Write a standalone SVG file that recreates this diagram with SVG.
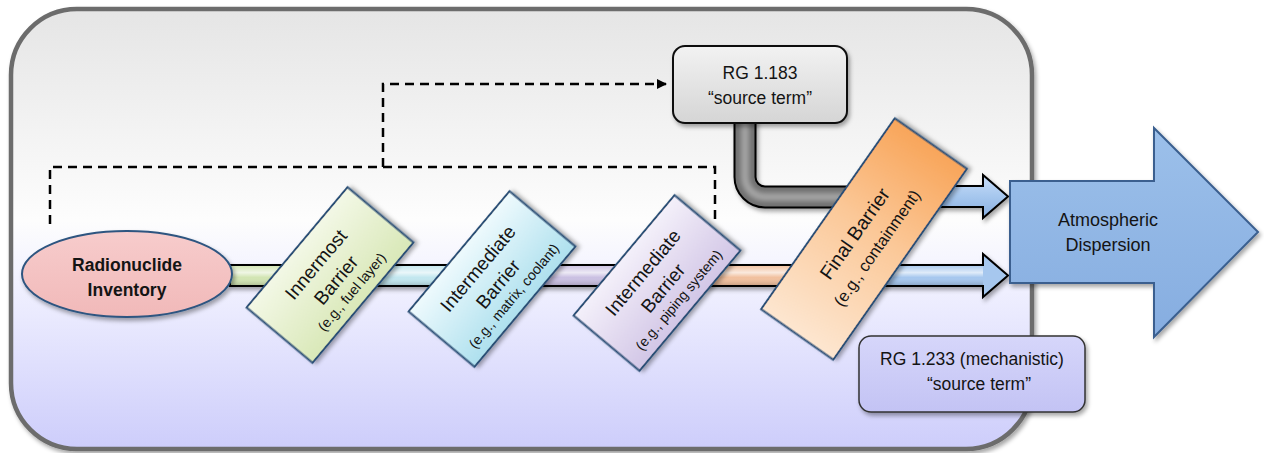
<svg xmlns="http://www.w3.org/2000/svg" width="1264" height="453" viewBox="0 0 1264 453">
<style>
  text { font-family: "Liberation Sans", Arial, sans-serif; fill: #141414; text-anchor: middle; }
  .lbl { font-size: 17.5px; }
  .bt { font-size: 19px; }
  .bs { font-size: 14px; }
  .bar { stroke: #2b4f76; stroke-width: 2; }
  .dash { fill: none; stroke: #000; stroke-width: 2.5; stroke-dasharray: 9 6; }
</style>
<defs>
  <linearGradient id="gBg" x1="0" y1="0" x2="0" y2="1">
    <stop offset="0" stop-color="#e5e5e5"/>
    <stop offset="0.48" stop-color="#fdfdfd"/>
    <stop offset="0.6" stop-color="#f3f3ff"/>
    <stop offset="1" stop-color="#cdcdfb"/>
  </linearGradient>
  <linearGradient id="gPipe" gradientUnits="userSpaceOnUse" x1="230" y1="0" x2="1008" y2="0">
    <stop offset="0" stop-color="#d2e5b3"/>
    <stop offset="0.128" stop-color="#d2e5b3"/>
    <stop offset="0.13" stop-color="#c2e7ef"/>
    <stop offset="0.336" stop-color="#c2e7ef"/>
    <stop offset="0.338" stop-color="#cac0e2"/>
    <stop offset="0.548" stop-color="#cac0e2"/>
    <stop offset="0.55" stop-color="#f1c09e"/>
    <stop offset="0.81" stop-color="#f1c09e"/>
    <stop offset="0.812" stop-color="#a6c7ee"/>
    <stop offset="1" stop-color="#a6c7ee"/>
  </linearGradient>
  <linearGradient id="gGloss" x1="0" y1="0" x2="0" y2="1">
    <stop offset="0" stop-color="#fff" stop-opacity="0.1"/>
    <stop offset="0.35" stop-color="#fff" stop-opacity="0.65"/>
    <stop offset="0.6" stop-color="#fff" stop-opacity="0"/>
    <stop offset="1" stop-color="#000" stop-opacity="0.15"/>
  </linearGradient>
  <linearGradient id="gBlue" x1="0" y1="0" x2="0" y2="1">
    <stop offset="0" stop-color="#c9defa"/>
    <stop offset="0.5" stop-color="#a6c7ee"/>
    <stop offset="1" stop-color="#88aee0"/>
  </linearGradient>
  <linearGradient id="gGreen" x1="0" y1="0" x2="0" y2="1">
    <stop offset="0" stop-color="#f3f8e6"/>
    <stop offset="1" stop-color="#d9e8b8"/>
  </linearGradient>
  <linearGradient id="gCyan" x1="0" y1="0" x2="0" y2="1">
    <stop offset="0" stop-color="#eefafd"/>
    <stop offset="1" stop-color="#aee0ee"/>
  </linearGradient>
  <linearGradient id="gLav" x1="0" y1="0" x2="0" y2="1">
    <stop offset="0" stop-color="#f4f0fa"/>
    <stop offset="1" stop-color="#d2c6e6"/>
  </linearGradient>
  <linearGradient id="gOrange" x1="0" y1="0" x2="1" y2="0">
    <stop offset="0" stop-color="#fde6d0"/>
    <stop offset="0.55" stop-color="#fbc898"/>
    <stop offset="1" stop-color="#f8a55a"/>
  </linearGradient>
  <linearGradient id="gPink" x1="0" y1="0" x2="0" y2="1">
    <stop offset="0" stop-color="#f7cccc"/>
    <stop offset="1" stop-color="#f1b9b9"/>
  </linearGradient>
  <linearGradient id="gGray" x1="0" y1="0" x2="0" y2="1">
    <stop offset="0" stop-color="#f2f2f2"/>
    <stop offset="1" stop-color="#d5d5d5"/>
  </linearGradient>
  <linearGradient id="gPurple" x1="0" y1="0" x2="0" y2="1">
    <stop offset="0" stop-color="#d6d6fa"/>
    <stop offset="1" stop-color="#c3c3f4"/>
  </linearGradient>
  <linearGradient id="gArrow" x1="0" y1="0" x2="0" y2="1">
    <stop offset="0" stop-color="#9cc0ea"/>
    <stop offset="1" stop-color="#86ade0"/>
  </linearGradient>
  <filter id="sh" x="-10%" y="-10%" width="130%" height="130%">
    <feDropShadow dx="2" dy="3" stdDeviation="2" flood-color="#000" flood-opacity="0.35"/>
  </filter>
  <filter id="soft" x="-20%" y="-20%" width="140%" height="140%">
    <feGaussianBlur stdDeviation="2.5"/>
  </filter>
  <marker id="ah" viewBox="0 0 10 10" refX="9" refY="5" markerWidth="4" markerHeight="4" orient="auto" markerUnits="strokeWidth">
    <path d="M0,0 L10,5 L0,10 Z" fill="#000"/>
  </marker>
</defs>

<g id="container">
  <rect x="11" y="9" width="1021" height="440" rx="66" ry="66" fill="url(#gBg)" stroke="#6c6c6c" stroke-width="4.5" filter="url(#sh)"/>
</g>

<g id="connectors">
  <path class="dash" d="M50,224 V167 H715 V224"/>
  <path class="dash" d="M383,167 V84 H666" marker-end="url(#ah)"/>
  <!-- lower pipe -->
  <g filter="url(#sh)">
    <path d="M230,265 H983 V254 L1008,275.5 L983,297 V286 H230 Z" fill="url(#gPipe)" stroke="#000" stroke-width="2" stroke-linejoin="miter"/>
  </g>
  <rect x="231" y="266" width="752" height="19" fill="url(#gGloss)"/>
  <!-- upper pipe -->
  <g filter="url(#sh)">
    <path d="M745,118 V177 A20,20 0 0 0 765,197 H910" fill="none" stroke="#000" stroke-width="23"/>
    <path d="M745,118 V177 A20,20 0 0 0 765,197 H910" fill="none" stroke="#707070" stroke-width="19"/>
    <path d="M745,118 V177 A20,20 0 0 0 765,197 H910" fill="none" stroke="#a4a4a4" stroke-width="8" filter="url(#soft)"/>
    <path d="M895,186 H983 V175 L1008,196.5 L983,218 V207 H895" fill="url(#gBlue)" stroke="#000" stroke-width="2"/>
  </g>
</g>

<g id="inventory">
  <ellipse cx="127" cy="274" rx="105" ry="43" fill="url(#gPink)" stroke="#2d5580" stroke-width="2" filter="url(#sh)"/>
  <text x="127" y="271" style="font-size:17.5px;font-weight:bold">Radionuclide</text>
  <text x="127" y="296" style="font-size:17.5px;font-weight:bold">Inventory</text>
</g>

<g id="innermost-barrier" transform="translate(330,275) rotate(-50)">
  <rect class="bar" x="-78.5" y="-43" width="157" height="86" fill="url(#gGreen)" filter="url(#sh)"/>
  <text class="bt" x="-1" y="-11">Innermost</text>
  <text class="bt" x="0" y="14.5">Barrier</text>
  <text class="bs" x="1" y="32.5">(e.g., fuel layer)</text>
</g>

<g id="intermediate-barrier-1" transform="translate(492,279) rotate(-50)">
  <rect class="bar" x="-78.5" y="-43" width="157" height="86" fill="url(#gCyan)" filter="url(#sh)"/>
  <text class="bt" x="-1" y="-11">Intermediate</text>
  <text class="bt" x="0" y="14.5">Barrier</text>
  <text class="bs" x="1" y="32.5">(e.g., matrix, coolant)</text>
</g>

<g id="intermediate-barrier-2" transform="translate(657,283) rotate(-50)">
  <rect class="bar" x="-78.5" y="-43" width="157" height="86" fill="url(#gLav)" filter="url(#sh)"/>
  <text class="bt" x="-1" y="-11">Intermediate</text>
  <text class="bt" x="0" y="14.5">Barrier</text>
  <text class="bs" x="1" y="32.5">(e.g., piping system)</text>
</g>

<g id="final-barrier" transform="translate(864,239) rotate(-55)">
  <rect class="bar" x="-116.5" y="-44" width="233" height="88" fill="url(#gOrange)" filter="url(#sh)"/>
  <text x="-1" y="-4" style="font-size:19.5px">Final Barrier</text>
  <text x="0" y="21.5" style="font-size:16.5px">(e.g., containment)</text>
</g>

<g id="rg-1-183">
  <rect x="673" y="46" width="174" height="77" rx="12" ry="12" fill="url(#gGray)" stroke="#111" stroke-width="2" filter="url(#sh)"/>
  <text class="lbl" x="760" y="79">RG 1.183</text>
  <text class="lbl" x="760" y="104">“source term”</text>
</g>

<g id="rg-1-233">
  <rect x="859" y="336" width="226" height="76" rx="12" ry="12" fill="url(#gPurple)" stroke="#333" stroke-width="1.5" filter="url(#sh)"/>
  <text class="lbl" x="972" y="365">RG 1.233 (mechanistic)</text>
  <text class="lbl" x="979" y="390">“source term”</text>
</g>

<g id="atmospheric-dispersion">
  <path d="M1010,181 H1154 V128 L1258,232 L1154,337 V283 H1010 Z" fill="url(#gArrow)" stroke="#3a5f8f" stroke-width="2" stroke-linejoin="miter" filter="url(#sh)"/>
  <text x="1108" y="226" style="font-size:18px">Atmospheric</text>
  <text x="1108" y="251" style="font-size:18px">Dispersion</text>
</g>
</svg>
